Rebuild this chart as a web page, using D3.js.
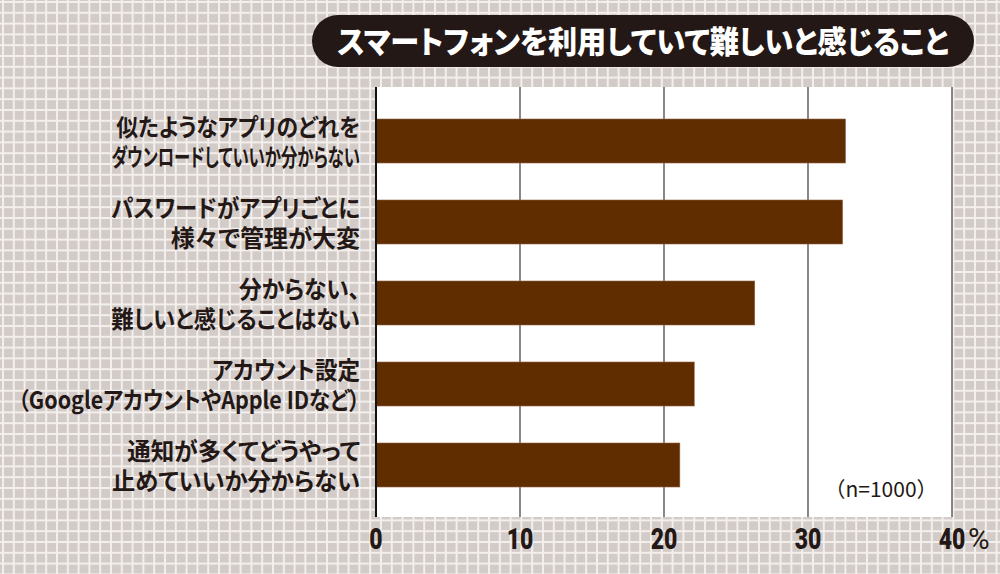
<!DOCTYPE html>
<html><head><meta charset="utf-8">
<script src="https://cdn.jsdelivr.net/npm/d3@7"></script>
<style>html,body{margin:0;padding:0;background:#d5cdc9;}svg{display:block;}</style>
</head><body>
<svg id="c" width="1000" height="574"></svg>
<script>
const title = "スマートフォンを利用していて難しいと感じること";
const categories = [
  ["似たようなアプリのどれを", "ダウンロードしていいか分からない"],
  ["パスワードがアプリごとに", "様々で管理が大変"],
  ["分からない、", "難しいと感じることはない"],
  ["アカウント設定", "（GoogleアカウントやApple IDなど）"],
  ["通知が多くてどうやって", "止めていいか分からない"]
];
const values = [32.6, 32.4, 26.3, 22.1, 21.1];
const ticks = [0, 10, 20, 30, 40];
const note = "（n=1000）";

// layout: maximum set width of each label line (typeset condensed to fit)
const labelFit = [[244, 249], [249, 191], [121, 249], [148, 342], [233, 248]];

const svg = d3.select("#c");
const W = 1000, H = 574;
const cjk = "'Noto Sans CJK JP','Noto Sans CJK SC',sans-serif";
const ink = "#231815";

// background grid pattern
const defs = svg.append("defs");
const cell = 10.8;
const pat = defs.append("pattern").attr("id","grid").attr("patternUnits","userSpaceOnUse")
  .attr("width",cell).attr("height",cell).attr("x",2).attr("y",1);
pat.append("rect").attr("width",cell).attr("height",cell).attr("fill","#d3cbc8");
pat.append("rect").attr("x",0).attr("y",0).attr("width",2).attr("height",cell).attr("fill","#f3efed");
pat.append("rect").attr("x",0).attr("y",0).attr("width",cell).attr("height",2).attr("fill","#f3efed");
svg.append("rect").attr("width",W).attr("height",H).attr("fill","url(#grid)");

// scales
const x = d3.scaleLinear().domain([0,40]).range([376,952]);
const y = d3.scaleBand().domain(d3.range(categories.length)).range([100.5,505.5])
  .paddingInner(0.457).paddingOuter(0.2285);
const plotTop = 87, plotBottom = 517;

svg.append("rect").attr("x",x(0)).attr("y",plotTop).attr("width",x(40)-x(0)).attr("height",plotBottom-plotTop).attr("fill","#ffffff");

// grid lines
svg.append("g").selectAll("line").data(ticks.slice(1)).join("line")
  .attr("x1",d=>x(d)).attr("x2",d=>x(d)).attr("y1",plotTop).attr("y2",plotBottom)
  .attr("stroke","#6e6a68").attr("stroke-width",1.6);

// bars
svg.append("g").selectAll("rect").data(values).join("rect")
  .attr("x",x(0)).attr("y",(d,i)=>y(i)).attr("width",d=>x(d)-x(0)).attr("height",y.bandwidth())
  .attr("fill","#602d00").attr("stroke","#8c5f44").attr("stroke-width",0.6);

// left axis line
svg.append("line").attr("x1",x(0)).attr("x2",x(0)).attr("y1",plotTop).attr("y2",plotBottom)
  .attr("stroke","#111").attr("stroke-width",2);

// tick labels (condensed bold)
const tickY = 549, sx = 0.78;
svg.append("g").selectAll("text").data(ticks).join("text")
  .attr("transform",d=>`translate(${x(d)},${tickY}) scale(${sx},1)`)
  .attr("text-anchor","middle")
  .attr("font-family","Roboto,'DejaVu Sans',sans-serif")
  .attr("font-weight",900).attr("font-size",29.5).attr("fill",ink)
  .text(d=>d);
svg.append("text").attr("x",x(40)+16).attr("y",tickY)
  .attr("font-family","Roboto,sans-serif").attr("font-weight",400).attr("font-size",29.5).attr("fill",ink).text("%");

// category labels
const labelX = 360;
const labG = svg.append("g");
categories.forEach((lines,i)=>{
  const c = y(i)+y.bandwidth()/2;
  lines.forEach((line,k)=>{
    const by = c + (k===0 ? -14 : 16) + 8.5;
    const t = labG.append("text")
      .attr("text-anchor","end").attr("font-family",cjk).attr("font-weight",700)
      .attr("font-size",24).attr("fill",ink)
      .style("font-feature-settings","'palt'")
      .text(line);
    const len = t.node().getComputedTextLength();
    const f = Math.min(1, labelFit[i][k]/len);
    t.attr("transform",`translate(${labelX},${by}) scale(${f},1)`);
  });
});

// note
svg.append("text").attr("x",881).attr("y",497).attr("text-anchor","middle")
  .attr("font-family",cjk).attr("font-size",21).attr("fill",ink).text(note);

// title pill
svg.append("rect").attr("x",312).attr("y",15).attr("width",662).attr("height",52).attr("rx",26)
  .attr("fill",ink);
const tt = svg.append("text").attr("text-anchor","middle")
  .attr("font-family",cjk).attr("font-weight",900).attr("font-size",31).attr("fill","#ffffff")
  .style("font-feature-settings","'palt'").text(title);
const tlen = tt.node().getComputedTextLength();
tt.attr("transform",`translate(643,52.5) scale(${Math.min(1,612/tlen)},1)`);
</script>
</body></html>
